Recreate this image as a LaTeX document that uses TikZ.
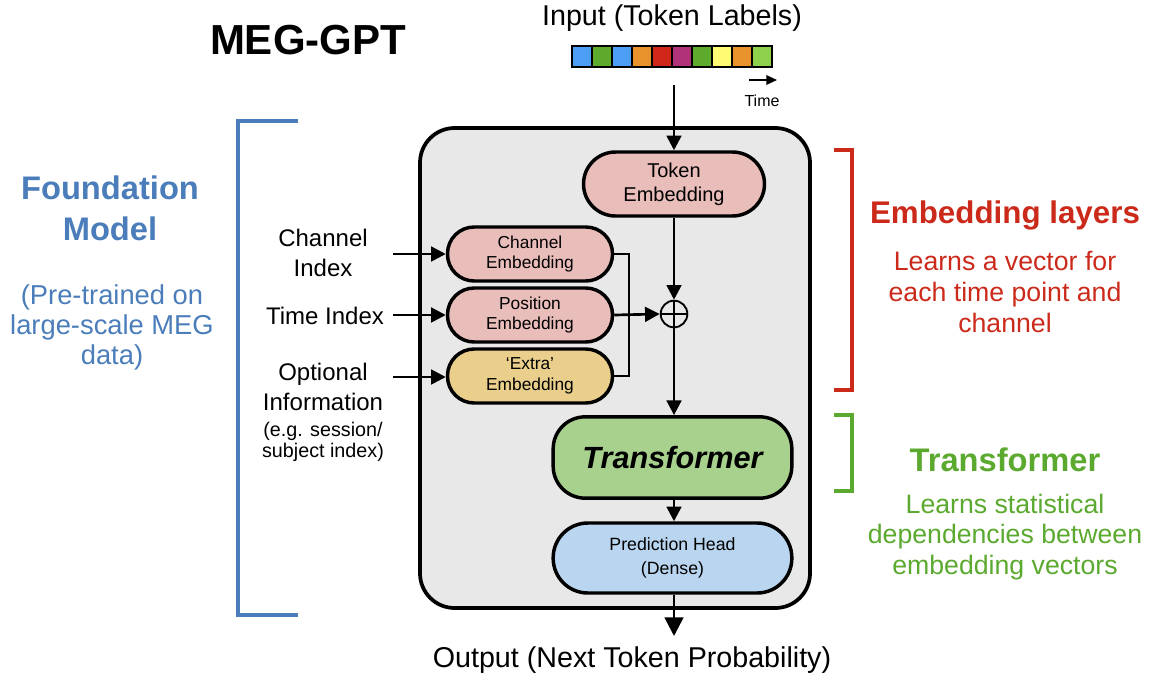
\documentclass[tikz,border=0pt]{standalone}
\usepackage{fontspec}
\setmainfont{Liberation Sans}
\usetikzlibrary{arrows.meta}
\definecolor{boxgray}{HTML}{E8E8E8}
\definecolor{embpink}{HTML}{E8BDBA}
\definecolor{embyel}{HTML}{E9CF8B}
\definecolor{trgreen}{HTML}{A9D18E}
\definecolor{predblue}{HTML}{BAD5EF}
\definecolor{fmblue}{HTML}{4A7DBA}
\definecolor{emred}{HTML}{CB2A1B}
\definecolor{tfgreen}{HTML}{5BA92F}
\definecolor{tkblue}{HTML}{4D9FF5}
\definecolor{tkgreen}{HTML}{5DAA2C}
\definecolor{tkorange}{HTML}{E8922C}
\definecolor{tkred}{HTML}{D0271A}
\definecolor{tkmag}{HTML}{B03279}
\definecolor{tkyel}{HTML}{FFFB72}
\definecolor{tklgreen}{HTML}{8ED14C}
\begin{document}
\begin{tikzpicture}[x=0.75pt,y=-0.75pt,
  pill/.style={draw=black, line width=2.6pt, align=center, inner sep=0pt},
  smallemb/.style={pill, minimum width=123.75pt, minimum height=40.5pt, rounded corners=20pt, font=\fontsize{13}{15.5}\selectfont},
  arr/.style={line width=2pt, -{Triangle[length=11pt,width=11pt]}},
  bigarr/.style={line width=2pt, -{Triangle[length=14pt,width=14pt]}},
  plain/.style={line width=2pt},
  lbl/.style={align=center, inner sep=0pt},
  brk/.style={line width=2.4pt},
  pluscirc/.style={circle, draw, line width=1.4pt, minimum size=20pt, inner sep=0pt,
    path picture={\draw[line width=1.4pt] (path picture bounding box.north) -- (path picture bounding box.south) (path picture bounding box.west) -- (path picture bounding box.east);}}
]
\useasboundingbox (0,0) rectangle (1151,678);

% main box
\draw[fill=boxgray, line width=2.8pt, rounded corners=26pt] (420,128) rectangle (810,608);

% title
\node[lbl, font=\fontsize{31.5}{36}\selectfont\bfseries] (title) at (308,40) {MEG-GPT};

% input
\node[lbl, font=\fontsize{21.5}{25}\selectfont] (input) at (672,18) {Input (Token Labels)};
\foreach \c [count=\i from 0] in {tkblue,tkgreen,tkblue,tkorange,tkred,tkmag,tkgreen,tkyel,tkorange,tklgreen}
  \draw[fill=\c, line width=1.2pt] (572+20*\i,46) rectangle ++(20,21);
\draw[line width=1.8pt] (572,46) rectangle (772,67);
\coordinate (tA) at (749,80);
\coordinate (tB) at (777,80);
\draw[line width=1.6pt, -{Triangle[length=8pt,width=7pt]}] (tA) -- (tB);
\node[lbl, font=\fontsize{12}{14}\selectfont] (time) at (762,101) {Time};
\coordinate (inTop) at (674,85);

% nodes
\node[pill, fill=embpink, minimum width=135.75pt, minimum height=48pt, rounded corners=24pt, font=\fontsize{15}{18}\selectfont] (tok) at (674,184) {Token\\Embedding};
\node[smallemb, fill=embpink] (chan) at (530,254) {Channel\\Embedding};
\node[smallemb, fill=embpink] (pos) at (530,315) {Position\\Embedding};
\node[smallemb, fill=embyel] (extra) at (530,376) {`Extra'\\Embedding};
\node[pluscirc] (plus) at (674,314) {};
\node[pill, fill=trgreen, minimum width=179pt, minimum height=61pt, rounded corners=24pt, font=\fontsize{23}{27}\selectfont\bfseries\itshape] (trans) at (672.5,457.5) {Transformer};
\node[pill, fill=predblue, minimum width=179pt, minimum height=52.5pt, rounded corners=26pt, font=\fontsize{13.3}{18}\selectfont] (pred) at (672.5,558) {Prediction Head\\(Dense)};
\node[lbl, font=\fontsize{21.5}{25}\selectfont] (output) at (632,660) {Output (Next Token Probability)};
\coordinate (outEnd) at (674,636);

% left inputs
\node[lbl, font=\fontsize{18}{22.5}\selectfont] (chIdx) at (323,253) {Channel\\Index};
\node[lbl, font=\fontsize{18}{22.5}\selectfont] (tIdx) at (325,316) {Time Index};
\node[lbl, font=\fontsize{18}{22.5}\selectfont] (optInf) at (323,387) {Optional\\Information};
\node[lbl, font=\fontsize{14.8}{16}\selectfont] (optEg) at (323,442) {(e.g. session/\\subject index)};
\coordinate (chS) at (393,254);
\coordinate (tS) at (393,315);
\coordinate (oS) at (393,377);

% connectors
\draw[arr] (inTop) -- (tok.north);
\draw[arr] (chS) -- (chan.west);
\draw[arr] (tS) -- (pos.west);
\draw[arr] (oS) -- (extra.west |- oS);
\coordinate (jTop) at (629,254);
\coordinate (jBot) at (629,376);
\draw[plain] (chan.east) -- (jTop) -- (jBot) -- (extra.east);
\draw[arr] (pos.east) -- (plus.west);
\draw[arr] (tok.south) -- (plus.north);
\draw[arr] (plus.south) -- (trans.north -| plus);
\draw[arr] (trans.south -| plus) -- (pred.north -| plus);
\draw[bigarr] (pred.south -| plus) -- (outEnd);

% brackets
\draw[brk, fmblue] (298,121) -- (238,121) -- (238,615) -- (298,615);
\draw[brk, emred] (834,150) -- (852,150) -- (852,390) -- (834,390);
\draw[brk, tfgreen] (834,415) -- (852,415) -- (852,491) -- (834,491);

% side labels
\node[lbl, text=fmblue, font=\fontsize{24.5}{30.75}\selectfont\bfseries] (fm) at (110,208) {Foundation\\Model};
\node[lbl, text=fmblue, font=\fontsize{20.5}{22.5}\selectfont] (fmsub) at (112,327) {(Pre-trained on\\large-scale MEG\\data)};
\node[lbl, text=emred, font=\fontsize{23.5}{28}\selectfont\bfseries] (el) at (1005,215) {Embedding layers};
\node[lbl, text=emred, font=\fontsize{20}{23}\selectfont] (elsub) at (1005,292) {Learns a vector for\\each time point and\\channel};
\node[lbl, text=tfgreen, font=\fontsize{24.5}{28}\selectfont\bfseries] (tf) at (1005,460) {Transformer};
\node[lbl, text=tfgreen, font=\fontsize{20}{23}\selectfont] (tfsub) at (1005,537) {Learns statistical\\dependencies between\\embedding vectors};
\end{tikzpicture}
\end{document}
